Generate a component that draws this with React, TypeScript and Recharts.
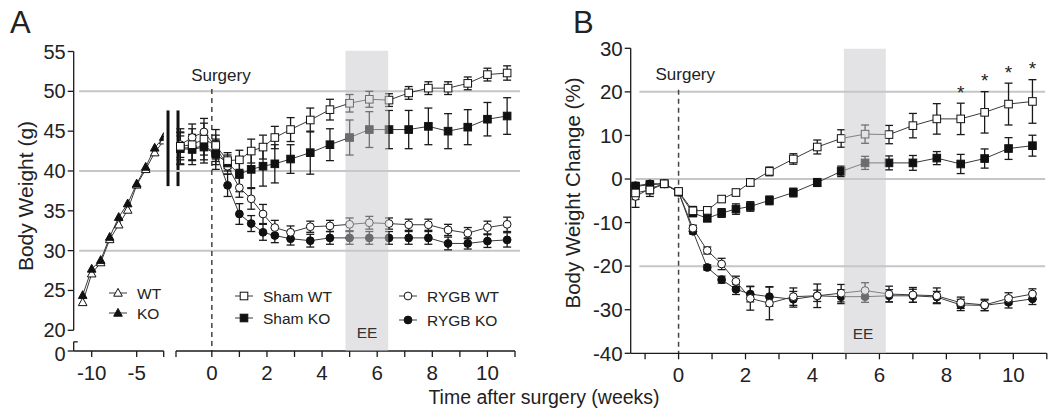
import React from "react";
import {
  ComposedChart,
  Line,
  XAxis,
  YAxis,
  ErrorBar,
  ReferenceLine,
  ReferenceArea,
  ReferenceDot,
} from "recharts";

const FONT = "'Liberation Sans', Arial, Helvetica, sans-serif";
const INK = "#1a1a1a";
const LINE = "#3a3a3a";
const GRID = "#c6c6c6";

// ---- Panel A, before surgery (weeks) ----
const preWeeks = [-11, -10, -9, -8, -7, -6, -5, -4, -3, -2];
const wtPre = [23.5, 27.1, 28.5, 31.4, 33.25, 35.1, 38.25, 40.2, 42.3, 43.8];
const wtPreErr = [0.4, 0.5, 0.5, 0.6, 0.6, 0.7, 0.7, 0.8, 0.8, 0.9];
const koPre = [24.4, 27.7, 28.8, 31.7, 34.2, 35.9, 38.4, 40.5, 42.9, 44.25];
const koPreErr = [0.4, 0.7, 0.6, 0.9, 1.1, 1.0, 1.0, 1.0, 1.2, 1.1];

// ---- Panel A, around / after surgery (days) ----
const aDays = [-8, -5, -2, 1, 4, 7, 10, 13, 16, 20, 25, 30, 35, 40, 45, 50, 55, 60, 65, 70, 75];
const aShamWT = [43.1, 43.3, 44.0, 43.2, 41.3, 41.4, 42.5, 43.0, 44.2, 45.2, 46.4, 47.7, 48.5, 49.0, 48.9, 49.8, 50.4, 50.4, 51.0, 52.1, 52.3];
const aShamWTErr = [2.2, 2.0, 2.0, 2.0, 1.0, 1.2, 1.5, 1.5, 1.4, 1.5, 1.5, 1.3, 1.1, 1.0, 0.8, 0.8, 0.8, 0.8, 0.8, 0.8, 0.9];
const aShamKO = [42.8, 42.7, 43.0, 42.1, 41.0, 39.6, 40.2, 40.6, 40.9, 41.5, 42.3, 43.3, 44.2, 45.2, 45.2, 45.2, 45.6, 45.0, 45.5, 46.5, 46.9];
const aShamKOErr = [2.0, 1.9, 2.0, 1.9, 1.0, 2.2, 2.3, 2.5, 2.4, 1.8, 2.7, 2.0, 2.2, 2.25, 2.4, 2.4, 2.3, 2.2, 2.2, 2.1, 2.3];
const aRygbWT = [43.3, 44.2, 44.9, 43.0, 40.6, 37.9, 36.5, 34.6, 32.9, 32.3, 33.0, 33.1, 33.3, 33.5, 33.4, 33.25, 33.25, 32.6, 32.2, 32.9, 33.3];
const aRygbWTErr = [1.6, 1.7, 1.7, 1.5, 1.0, 1.2, 1.3, 1.2, 0.9, 0.8, 0.7, 0.7, 0.8, 0.8, 0.7, 0.7, 0.7, 0.7, 0.7, 0.8, 0.9];
const aRygbKO = [42.9, 42.9, 43.1, 42.3, 38.2, 34.6, 33.4, 32.3, 31.9, 31.5, 31.25, 31.6, 31.6, 31.6, 31.6, 31.6, 31.6, 30.9, 30.9, 31.2, 31.35];
const aRygbKOErr = [1.5, 1.5, 1.7, 1.5, 1.4, 1.3, 1.0, 1.0, 0.9, 0.8, 0.8, 0.8, 0.8, 0.8, 0.8, 0.8, 0.8, 0.8, 0.7, 0.8, 0.9];

// ---- Panel B, % change (days) ----
const bDays = [-9, -6, -3, 0, 3, 6, 9, 12, 15, 19, 24, 29, 34, 39, 44, 49, 54, 59, 64, 69, 74];
const bShamWT = [-3.2, -2.5, -1.1, -2.85, -7.3, -7.2, -4.6, -3.1, -0.8, 1.75, 4.6, 7.35, 9.3, 10.3, 10.2, 12.25, 13.8, 13.8, 15.3, 17.2, 17.8];
const bShamWTErr = [1.5, 1.5, 0.4, 0.5, 1.0, 0.8, 0.7, 0.7, 0.8, 1.0, 1.2, 1.6, 2.0, 2.1, 2.1, 2.8, 3.5, 3.6, 4.75, 4.8, 5.0];
const bShamKO = [-1.7, -1.3, -1.1, -3.0, -7.8, -9.0, -7.8, -6.9, -6.3, -4.9, -3.1, -0.8, 1.75, 3.7, 3.7, 3.7, 4.8, 3.45, 4.7, 7.0, 7.65];
const bShamKOErr = [0.8, 0.8, 0.5, 0.5, 0.8, 0.8, 1.0, 1.2, 1.1, 1.0, 1.0, 0.9, 1.2, 1.5, 1.6, 1.7, 1.5, 2.2, 2.2, 2.5, 2.4];
const bRygbWT = [-4.0, -2.2, -1.1, -3.0, -11.3, -16.4, -19.5, -23.5, -27.4, -28.5, -27.0, -26.8, -26.2, -25.6, -26.4, -26.6, -26.8, -28.4, -28.9, -27.4, -26.4];
const bRygbWTErr = [2.5, 1.2, 0.5, 0.5, 0.7, 0.8, 1.3, 1.2, 2.7, 3.8, 2.0, 2.7, 2.0, 1.8, 1.8, 1.7, 1.8, 1.3, 1.3, 1.3, 1.2];
const bRygbKO = [-1.55, -1.1, -1.1, -3.0, -12.0, -20.3, -23.1, -25.3, -26.4, -27.0, -27.6, -26.8, -27.0, -27.0, -26.8, -26.8, -27.1, -28.9, -29.0, -28.3, -27.5];
const bRygbKOErr = [0.8, 0.6, 0.5, 0.5, 0.6, 0.6, 0.8, 1.2, 1.8, 2.2, 1.8, 1.3, 1.6, 1.3, 1.4, 1.5, 1.3, 1.3, 1.2, 1.3, 1.3];
const starDays = [59, 64, 69, 74];

const A_MIN = 17.4; // where the "0" of the broken axis sits
const aTicksY = [A_MIN, 20, 25, 30, 35, 40, 45, 50, 55];
const bTicksY = [-40, -30, -20, -10, 0, 10, 20, 30];
const weekTicks = [0, 1, 2, 3, 4, 5, 6, 7, 8, 9, 10, 11];

const preRows = preWeeks.map((w, i) => ({
  w,
  wt: wtPre[i],
  wtE: wtPreErr[i],
  ko: koPre[i],
  koE: koPreErr[i],
}));

const aRows = aDays.map((d, i) => ({
  w: d / 7,
  sWT: aShamWT[i],
  sWTe: aShamWTErr[i],
  sKO: aShamKO[i],
  sKOe: aShamKOErr[i],
  rWT: aRygbWT[i],
  rWTe: aRygbWTErr[i],
  rKO: aRygbKO[i],
  rKOe: aRygbKOErr[i],
}));

const bRows = bDays.map((d, i) => ({
  w: d / 7,
  sWT: bShamWT[i],
  sWTe: bShamWTErr[i],
  sKO: bShamKO[i],
  sKOe: bShamKOErr[i],
  rWT: bRygbWT[i],
  rWTe: bRygbWTErr[i],
  rKO: bRygbKO[i],
  rKOe: bRygbKOErr[i],
}));

const starRows = starDays.map((d) => {
  const i = bDays.indexOf(d);
  return { w: d / 7, s: bShamWT[i] + bShamWTErr[i] + 2.5 };
});

type Kind = "sqO" | "sqF" | "ciO" | "ciF" | "trO" | "trF";

function Marker({ kind, cx, cy }: { kind: Kind; cx: number; cy: number }) {
  const filled = kind.endsWith("F");
  const fill = filled ? "#111" : "#fff";
  if (kind.startsWith("sq")) {
    return <rect x={cx - 3.8} y={cy - 3.8} width={7.6} height={7.6} fill={fill} stroke="#111" strokeWidth={1} />;
  }
  if (kind.startsWith("ci")) {
    return <circle cx={cx} cy={cy} r={3.9} fill={fill} stroke="#111" strokeWidth={1} />;
  }
  return (
    <polygon
      points={`${cx},${cy - 4.6} ${cx - 4.3},${cy + 3.2} ${cx + 4.3},${cy + 3.2}`}
      fill={fill}
      stroke="#111"
      strokeWidth={1}
    />
  );
}

const dotOf = (kind: Kind) => (p: any) => {
  if (p.cx == null || p.cy == null) return <g key={p.index} />;
  return <Marker key={p.index} kind={kind} cx={p.cx} cy={p.cy} />;
};

const tickStyle = { fontSize: 20.5, fill: "#222", fontFamily: FONT };
const evenLabel = (v: number) => (v % 2 === 0 && v <= 10 ? String(v) : "");

// y ticks of panel A: the lone "0" below the axis break sits a touch lower
const aYTick = (p: any) => {
  const v = p.payload.value;
  const isZero = v === A_MIN;
  return (
    <text
      x={p.x}
      y={p.y + (isZero ? 2.5 : 0)}
      textAnchor="end"
      dominantBaseline="central"
      fontSize={20}
      fill="#222"
      fontFamily={FONT}
    >
      {isZero ? "0" : String(v)}
    </text>
  );
};

function series(key: string, kind: Kind) {
  return (
    <Line
      key={key}
      dataKey={key}
      stroke={LINE}
      strokeWidth={1}
      dot={dotOf(kind)}
      activeDot={false}
      isAnimationActive={false}
    >
      <ErrorBar dataKey={key + "e"} width={4} stroke={INK} strokeWidth={1.3} direction="y" />
    </Line>
  );
}

// Panel A geometry (shared by the chart and its EE overlay)
const A_POST = { width: 530, margin: { top: 51.5, right: 15, bottom: 61, left: 176 }, domain: [-1.3, 11] };
// Panel B geometry
const B_GEO = { width: 488, margin: { top: 48.3, right: 1.2, bottom: 58.7, left: 630.7 - 560 }, domain: [-1.43, 11] };

function PanelAPre() {
  return (
    <ComposedChart
      width={190}
      height={412}
      data={preRows}
      margin={{ top: 51.5, right: 26.3, bottom: 0, left: 0 }}
    >
      <XAxis
        type="number"
        dataKey="w"
        domain={[-12, -2]}
        ticks={[-10, -5, -2]}
        tickFormatter={(v: number) => (v === -2 ? "" : String(v))}
        allowDataOverflow
        interval={0}
        height={61}
        tick={tickStyle}
        tickSize={6}
        tickMargin={8}
        stroke={INK}
        strokeWidth={1.3}
      />
      <YAxis
        type="number"
        domain={[A_MIN, 55]}
        ticks={aTicksY}
        allowDataOverflow
        interval={0}
        width={73.7}
        axisLine={false}
        tick={aYTick}
        tickSize={6}
        stroke={INK}
        strokeWidth={1.3}
      />
      {[30, 40, 50].map((g) => (
        <ReferenceLine
          key={g}
          segment={[{ x: -11.4, y: g }, { x: -0.6, y: g }]}
          stroke={GRID}
          strokeWidth={2}
          ifOverflow="visible"
        />
      ))}
      <ReferenceLine segment={[{ x: -12, y: 20 }, { x: -12, y: 55 }]} stroke={INK} strokeWidth={1.3} ifOverflow="visible" />
      <ReferenceLine segment={[{ x: -12, y: 18.55 }, { x: -12, y: A_MIN }]} stroke={INK} strokeWidth={1.3} ifOverflow="visible" />
      <ReferenceLine segment={[{ x: -12, y: 18.55 }, { x: -11.55, y: 18.55 }]} stroke={INK} strokeWidth={1.3} ifOverflow="visible" />
      <ReferenceLine segment={[{ x: -1.52, y: 38.1 }, { x: -1.52, y: 47.6 }]} stroke="#111" strokeWidth={3} ifOverflow="visible" />
      <ReferenceLine segment={[{ x: -0.41, y: 38.1 }, { x: -0.41, y: 47.6 }]} stroke="#111" strokeWidth={3} ifOverflow="visible" />
      {series("wt", "trO")}
      {series("ko", "trF")}
    </ComposedChart>
  );
}

function PanelAPost() {
  return (
    <ComposedChart
      width={A_POST.width}
      height={412}
      data={aRows}
      margin={{ ...A_POST.margin, bottom: 0 }}
    >
      <XAxis
        type="number"
        dataKey="w"
        domain={A_POST.domain}
        ticks={[-1.3, ...weekTicks]}
        tickFormatter={evenLabel}
        allowDataOverflow
        interval={0}
        height={61}
        tick={tickStyle}
        tickSize={6}
        tickMargin={8}
        stroke={INK}
        strokeWidth={1.3}
      />
      <YAxis type="number" domain={[A_MIN, 55]} allowDataOverflow hide />
      {[30, 40, 50].map((g) => (
        <ReferenceLine
          key={g}
          segment={[{ x: -1.3, y: g }, { x: 11.18, y: g }]}
          stroke={GRID}
          strokeWidth={2}
          ifOverflow="visible"
        />
      ))}
      <ReferenceLine
        segment={[{ x: 0, y: 50.3 }, { x: 0, y: A_MIN }]}
        stroke="#444"
        strokeWidth={1.5}
        strokeDasharray="5 4"
        ifOverflow="visible"
      />
      <ReferenceDot
        x={0.33}
        y={52.1}
        r={0}
        stroke="none"
        fill="none"
        label={{ value: "Surgery", position: "center", fontSize: 17, fill: "#222", fontFamily: FONT }}
      />
      {series("rKO", "ciF")}
      {series("rWT", "ciO")}
      {series("sKO", "sqF")}
      {series("sWT", "sqO")}
    </ComposedChart>
  );
}

// translucent EE band, laid over the markers as in the original figure
function PanelAShade() {
  return (
    <ComposedChart width={A_POST.width} height={412} data={aRows} margin={A_POST.margin}>
      <XAxis type="number" dataKey="w" domain={A_POST.domain} allowDataOverflow hide />
      <YAxis type="number" domain={[A_MIN, 55]} allowDataOverflow hide />
      <ReferenceArea x1={4.85} x2={6.4} y1={A_MIN} y2={55.1} fill="#c7c8cb" fillOpacity={0.5} stroke="none" ifOverflow="visible" />
      <ReferenceDot
        x={5.63}
        y={19.75}
        r={0}
        stroke="none"
        fill="none"
        label={{ value: "EE", position: "center", fontSize: 15.5, fill: "#333", fontFamily: FONT }}
      />
    </ComposedChart>
  );
}

function PanelB() {
  return (
    <ComposedChart
      width={B_GEO.width}
      height={412}
      data={bRows}
      margin={{ top: B_GEO.margin.top, right: B_GEO.margin.right, bottom: 0, left: 0 }}
    >
      <XAxis
        type="number"
        dataKey="w"
        domain={B_GEO.domain}
        ticks={[-1, ...weekTicks]}
        tickFormatter={evenLabel}
        allowDataOverflow
        interval={0}
        height={58.7}
        tick={tickStyle}
        tickSize={6}
        tickMargin={8}
        stroke={INK}
        strokeWidth={1.3}
      />
      <YAxis
        type="number"
        domain={[-40, 30]}
        ticks={bTicksY}
        allowDataOverflow
        interval={0}
        width={70.7}
        tick={tickStyle}
        tickSize={6}
        stroke={INK}
        strokeWidth={1.3}
      />
      {[20, 0, -20].map((v) => (
        <ReferenceLine
          key={v}
          segment={[{ x: v === 0 ? -1.29 : -1.17, y: v }, { x: 10.95, y: v }]}
          stroke={GRID}
          strokeWidth={2}
          ifOverflow="visible"
        />
      ))}
      <ReferenceLine
        segment={[{ x: 0, y: 20.5 }, { x: 0, y: -40 }]}
        stroke="#444"
        strokeWidth={1.5}
        strokeDasharray="5 4"
        ifOverflow="visible"
      />
      <ReferenceDot
        x={0.2}
        y={24}
        r={0}
        stroke="none"
        fill="none"
        label={{ value: "Surgery", position: "center", fontSize: 17, fill: "#222", fontFamily: FONT }}
      />
      {series("rKO", "ciF")}
      {series("rWT", "ciO")}
      {series("sKO", "sqF")}
      {series("sWT", "sqO")}
      <Line
        data={starRows}
        dataKey="s"
        stroke="none"
        activeDot={false}
        isAnimationActive={false}
        dot={(p: any) => (
          <text
            key={p.index}
            x={p.cx}
            y={p.cy}
            textAnchor="middle"
            dominantBaseline="central"
            fontSize={19}
            fontFamily={FONT}
            fill="#222"
          >
            *
          </text>
        )}
      />
    </ComposedChart>
  );
}

function PanelBShade() {
  return (
    <ComposedChart width={B_GEO.width} height={412} data={bRows} margin={B_GEO.margin}>
      <XAxis type="number" dataKey="w" domain={B_GEO.domain} allowDataOverflow hide />
      <YAxis type="number" domain={[-40, 30]} allowDataOverflow hide />
      <ReferenceArea x1={4.94} x2={6.19} y1={-40} y2={29.9} fill="#c7c8cb" fillOpacity={0.5} stroke="none" ifOverflow="visible" />
      <ReferenceDot
        x={5.51}
        y={-35.4}
        r={0}
        stroke="none"
        fill="none"
        label={{ value: "EE", position: "center", fontSize: 15.5, fill: "#333", fontFamily: FONT }}
      />
    </ComposedChart>
  );
}

function LegendRow({ x, y, kind, text }: { x: number; y: number; kind: Kind; text: string }) {
  return (
    <g>
      <line x1={x - 9} x2={x + 9} y1={y} y2={y} stroke={LINE} strokeWidth={1} />
      <Marker kind={kind} cx={x} cy={y} />
      <text x={x + 19} y={y} dominantBaseline="central" fontSize={15.5} fill="#222" fontFamily={FONT}>
        {text}
      </text>
    </g>
  );
}

const abs = (left: number) => ({ position: "absolute" as const, left, top: 0 });

export default function App() {
  return (
    <div style={{ position: "relative", width: 1048, height: 412, background: "#fff", fontFamily: FONT }}>
      <style>{"body{margin:0}"}</style>
      <div style={abs(0)}>
        <PanelAPre />
      </div>
      <div style={abs(0)}>
        <PanelAPost />
      </div>
      <div style={abs(0)}>
        <PanelAShade />
      </div>
      <div style={abs(560)}>
        <PanelB />
      </div>
      <div style={abs(560)}>
        <PanelBShade />
      </div>
      <svg
        width={1048}
        height={412}
        style={{ position: "absolute", left: 0, top: 0, pointerEvents: "none" }}
      >
        <text x={10} y={33} fontSize={31} fill="#222" fontFamily={FONT}>A</text>
        <text x={573} y={33} fontSize={31} fill="#222" fontFamily={FONT}>B</text>
        <text
          transform="translate(25,196) rotate(-90)"
          textAnchor="middle"
          dominantBaseline="central"
          fontSize={21}
          fill="#222"
          fontFamily={FONT}
        >
          Body Weight (g)
        </text>
        <text
          transform="translate(572,193) rotate(-90)"
          textAnchor="middle"
          dominantBaseline="central"
          fontSize={20.5}
          fill="#222"
          fontFamily={FONT}
        >
          Body Weight Change (%)
        </text>
        <text x={544} y={404} textAnchor="middle" fontSize={19.5} fill="#222" fontFamily={FONT}>
          Time after surgery (weeks)
        </text>
        <LegendRow x={118} y={293} kind="trO" text="WT" />
        <LegendRow x={118} y={313} kind="trF" text="KO" />
        <LegendRow x={244} y={296} kind="sqO" text="Sham WT" />
        <LegendRow x={244} y={318} kind="sqF" text="Sham KO" />
        <LegendRow x={408} y={296} kind="ciO" text="RYGB WT" />
        <LegendRow x={408} y={320} kind="ciF" text="RYGB KO" />
      </svg>
    </div>
  );
}
